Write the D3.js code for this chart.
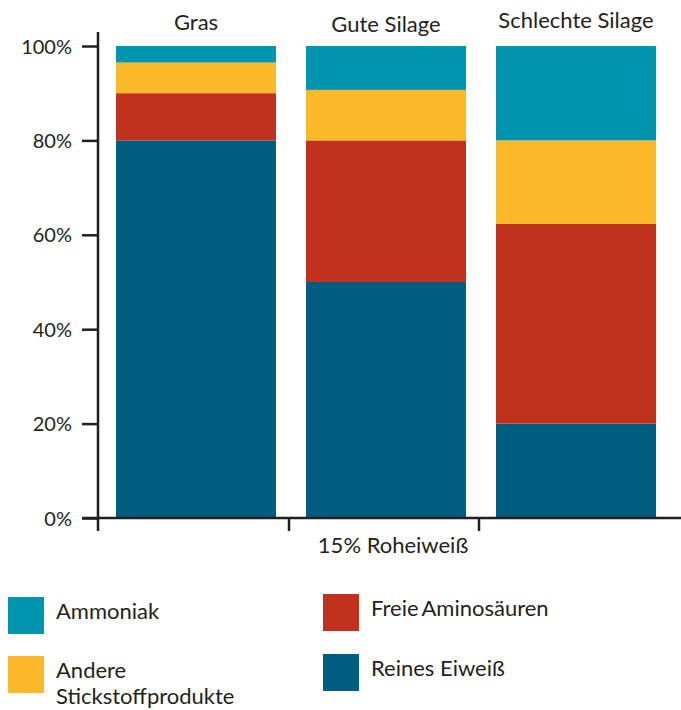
<!DOCTYPE html>
<html>
<head>
<meta charset="utf-8">
<script src="https://cdn.jsdelivr.net/npm/d3@7"></script>
<style>
  body { margin: 0; background: #fff; }
  svg text { font-family: Lato, "Open Sans", sans-serif; fill: #231f20; }
</style>
</head>
<body>
<svg id="svg" width="681" height="710"></svg>
<script>
// Categories (bars) and series (stack layers, bottom to top)
var categories = ["Gras", "Gute Silage", "Schlechte Silage"];
var seriesNames = ["Reines Eiweiß", "Freie Aminosäuren", "Andere Stickstoffprodukte", "Ammoniak"];
var reinesEiweiss = [80, 50, 20];
var freieAminosaeuren = [10, 30, 42.3];
var andereStickstoff = [6.5, 10.7, 17.7];
var ammoniak = [3.5, 9.3, 20];
var yTicks = [0, 20, 40, 60, 80, 100];
var xTitle = "15% Roheiweiß";

var colors = {
	"Ammoniak": "#0094af",
	"Andere Stickstoffprodukte": "#fbb829",
	"Freie Aminosäuren": "#c0321d",
	"Reines Eiweiß": "#005d80"
};

var rows = categories.map(function(c, i){
	return {
		cat: c,
		"Reines Eiweiß": reinesEiweiss[i],
		"Freie Aminosäuren": freieAminosaeuren[i],
		"Andere Stickstoffprodukte": andereStickstoff[i],
		"Ammoniak": ammoniak[i]
	};
});

var svg = d3.select("#svg");

var x = d3.scaleBand()
	.domain(categories)
	.range([101, 671])
	.paddingInner(30 / 190)
	.paddingOuter(30 / 190 / 2);

var y = d3.scaleLinear().domain([0, 100]).range([518, 46]);

var stack = d3.stack().keys(seriesNames);
var layers = stack(rows);

// bars
svg.append("g").selectAll("g")
	.data(layers)
	.enter().append("g")
	.attr("fill", function(d){ return colors[d.key]; })
	.selectAll("rect")
	.data(function(d){ return d; })
	.enter().append("rect")
	.attr("x", function(d){ return x(d.data.cat); })
	.attr("width", x.bandwidth())
	.attr("y", function(d){ return y(d[1]); })
	.attr("height", function(d){ return y(d[0]) - y(d[1]); });

// y axis
var yAxis = d3.axisLeft(y)
	.tickValues(yTicks)
	.tickSize(16)
	.tickPadding(10)
	.tickFormat(function(d){ return d + "%"; });

var gy = svg.append("g")
	.attr("transform", "translate(98,0)")
	.call(yAxis);
gy.select(".domain").remove();
gy.selectAll(".tick line").attr("stroke", "#231f20").attr("stroke-width", 2.5);
gy.selectAll(".tick text")
	.attr("font-size", 20)
	.attr("dy", "0.35em")
	.style("font-family", "Lato, sans-serif")
	.attr("fill", "#231f20");

svg.append("line")
	.attr("x1", 98).attr("x2", 98)
	.attr("y1", 32).attr("y2", 531)
	.attr("stroke", "#231f20").attr("stroke-width", 2.5);

// x axis
svg.append("line")
	.attr("x1", 82).attr("x2", 681)
	.attr("y1", 518).attr("y2", 518)
	.attr("stroke", "#231f20").attr("stroke-width", 2.5);

svg.append("g").selectAll("line")
	.data(categories.slice(1))
	.enter().append("line")
	.attr("x1", function(d){ return x(d) - 17; })
	.attr("x2", function(d){ return x(d) - 17; })
	.attr("y1", 518).attr("y2", 531)
	.attr("stroke", "#231f20").attr("stroke-width", 2.5);

// category labels on top
svg.append("g").selectAll("text")
	.data(categories)
	.enter().append("text")
	.attr("x", function(d){ return x(d) + x.bandwidth() / 2; })
	.attr("y", function(d, i){ return [30, 32, 28][i]; })
	.attr("text-anchor", "middle")
	.attr("font-size", 22)
	.text(function(d){ return d; });

svg.append("text")
	.attr("x", 393).attr("y", 553)
	.attr("text-anchor", "middle")
	.attr("font-size", 22)
	.text(xTitle);

// legend
var legendItems = [
	{ key: "Ammoniak", lines: ["Ammoniak"], x: 8, y: 597 },
	{ key: "Freie Aminosäuren", lines: ["Freie Aminosäuren"], x: 323, y: 594 },
	{ key: "Andere Stickstoffprodukte", lines: ["Andere", "Stickstoffprodukte"], x: 8, y: 656 },
	{ key: "Reines Eiweiß", lines: ["Reines Eiweiß"], x: 323, y: 654 }
];

var lg = svg.append("g").selectAll("g")
	.data(legendItems)
	.enter().append("g")
	.attr("transform", function(d){ return "translate(" + d.x + "," + d.y + ")"; });

lg.append("rect")
	.attr("width", 36).attr("height", 37)
	.attr("fill", function(d){ return colors[d.key]; });

lg.append("text")
	.attr("x", 48)
	.attr("y", 22)
	.attr("font-size", 22)
	.style("word-spacing", function(d){ return d.key === "Freie Aminosäuren" ? "-2px" : null; })
	.selectAll("tspan")
	.data(function(d){ return d.lines; })
	.enter().append("tspan")
	.attr("x", 48)
	.attr("dy", function(d, i){ return i === 0 ? 0 : 26; })
	.text(function(d){ return d; });
</script>
</body>
</html>
